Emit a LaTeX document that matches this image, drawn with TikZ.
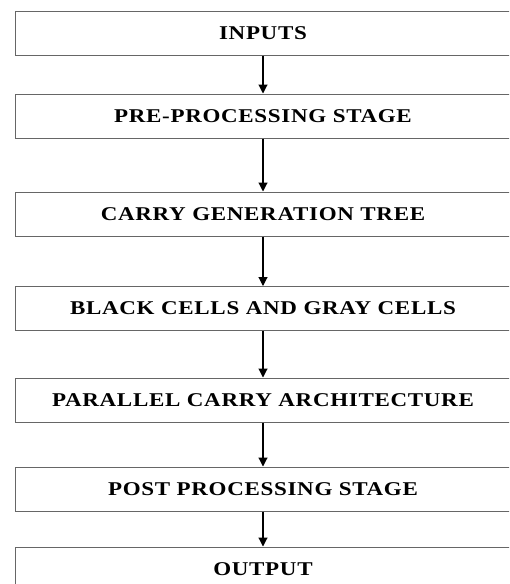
\documentclass[tikz,border=0pt]{standalone}
\usepackage{fontspec}
\newfontfamily\blockfont[FakeStretch=1.18, LetterSpace=3.5]{Liberation Serif}
\usepackage{tikz}
\usetikzlibrary{shapes, arrows.meta}
\tikzstyle{block} = [rectangle, draw=black!60, line width=1pt, text width=490pt,
    text centered, minimum width=496pt, minimum height=44pt, inner sep=0pt,
    font=\blockfont\bfseries\fontsize{19.5}{22}\selectfont]
\tikzstyle{line} = [draw, line width=1.1pt, -{Triangle[length=9pt, width=9pt]}]

\begin{document}
\begin{tikzpicture}[x=1pt, y=-1pt, node distance = 90pt, auto]
        \useasboundingbox (0,0) rectangle (509,584);
        \clip (0,0) rectangle (509,584);
        % Place nodes
        \node [block] (inputs) at (263,33) {INPUTS};
        \node [block, below of=inputs, node distance=83pt] (preproc) {PRE-PROCESSING STAGE};
        \node [block, below of=preproc, node distance=98pt] (carrytree) {CARRY GENERATION TREE};
        \node [block, below of=carrytree, node distance=94.5pt] (cells) {BLACK CELLS AND GRAY CELLS};
        \node [block, below of=cells, node distance=91.5pt] (parallel) {PARALLEL CARRY ARCHITECTURE};
        \node [block, below of=parallel, node distance=89pt] (postproc) {POST PROCESSING STAGE};
        \node [block, below of=postproc, node distance=80pt] (output) {OUTPUT};
        % Draw edges
        \path [line] (inputs) -- (preproc);
        \path [line] (preproc) -- (carrytree);
        \path [line] (carrytree) -- (cells);
        \path [line] (cells) -- (parallel);
        \path [line] (parallel) -- (postproc);
        \path [line] (postproc) -- (output);
    \end{tikzpicture}
\end{document}
